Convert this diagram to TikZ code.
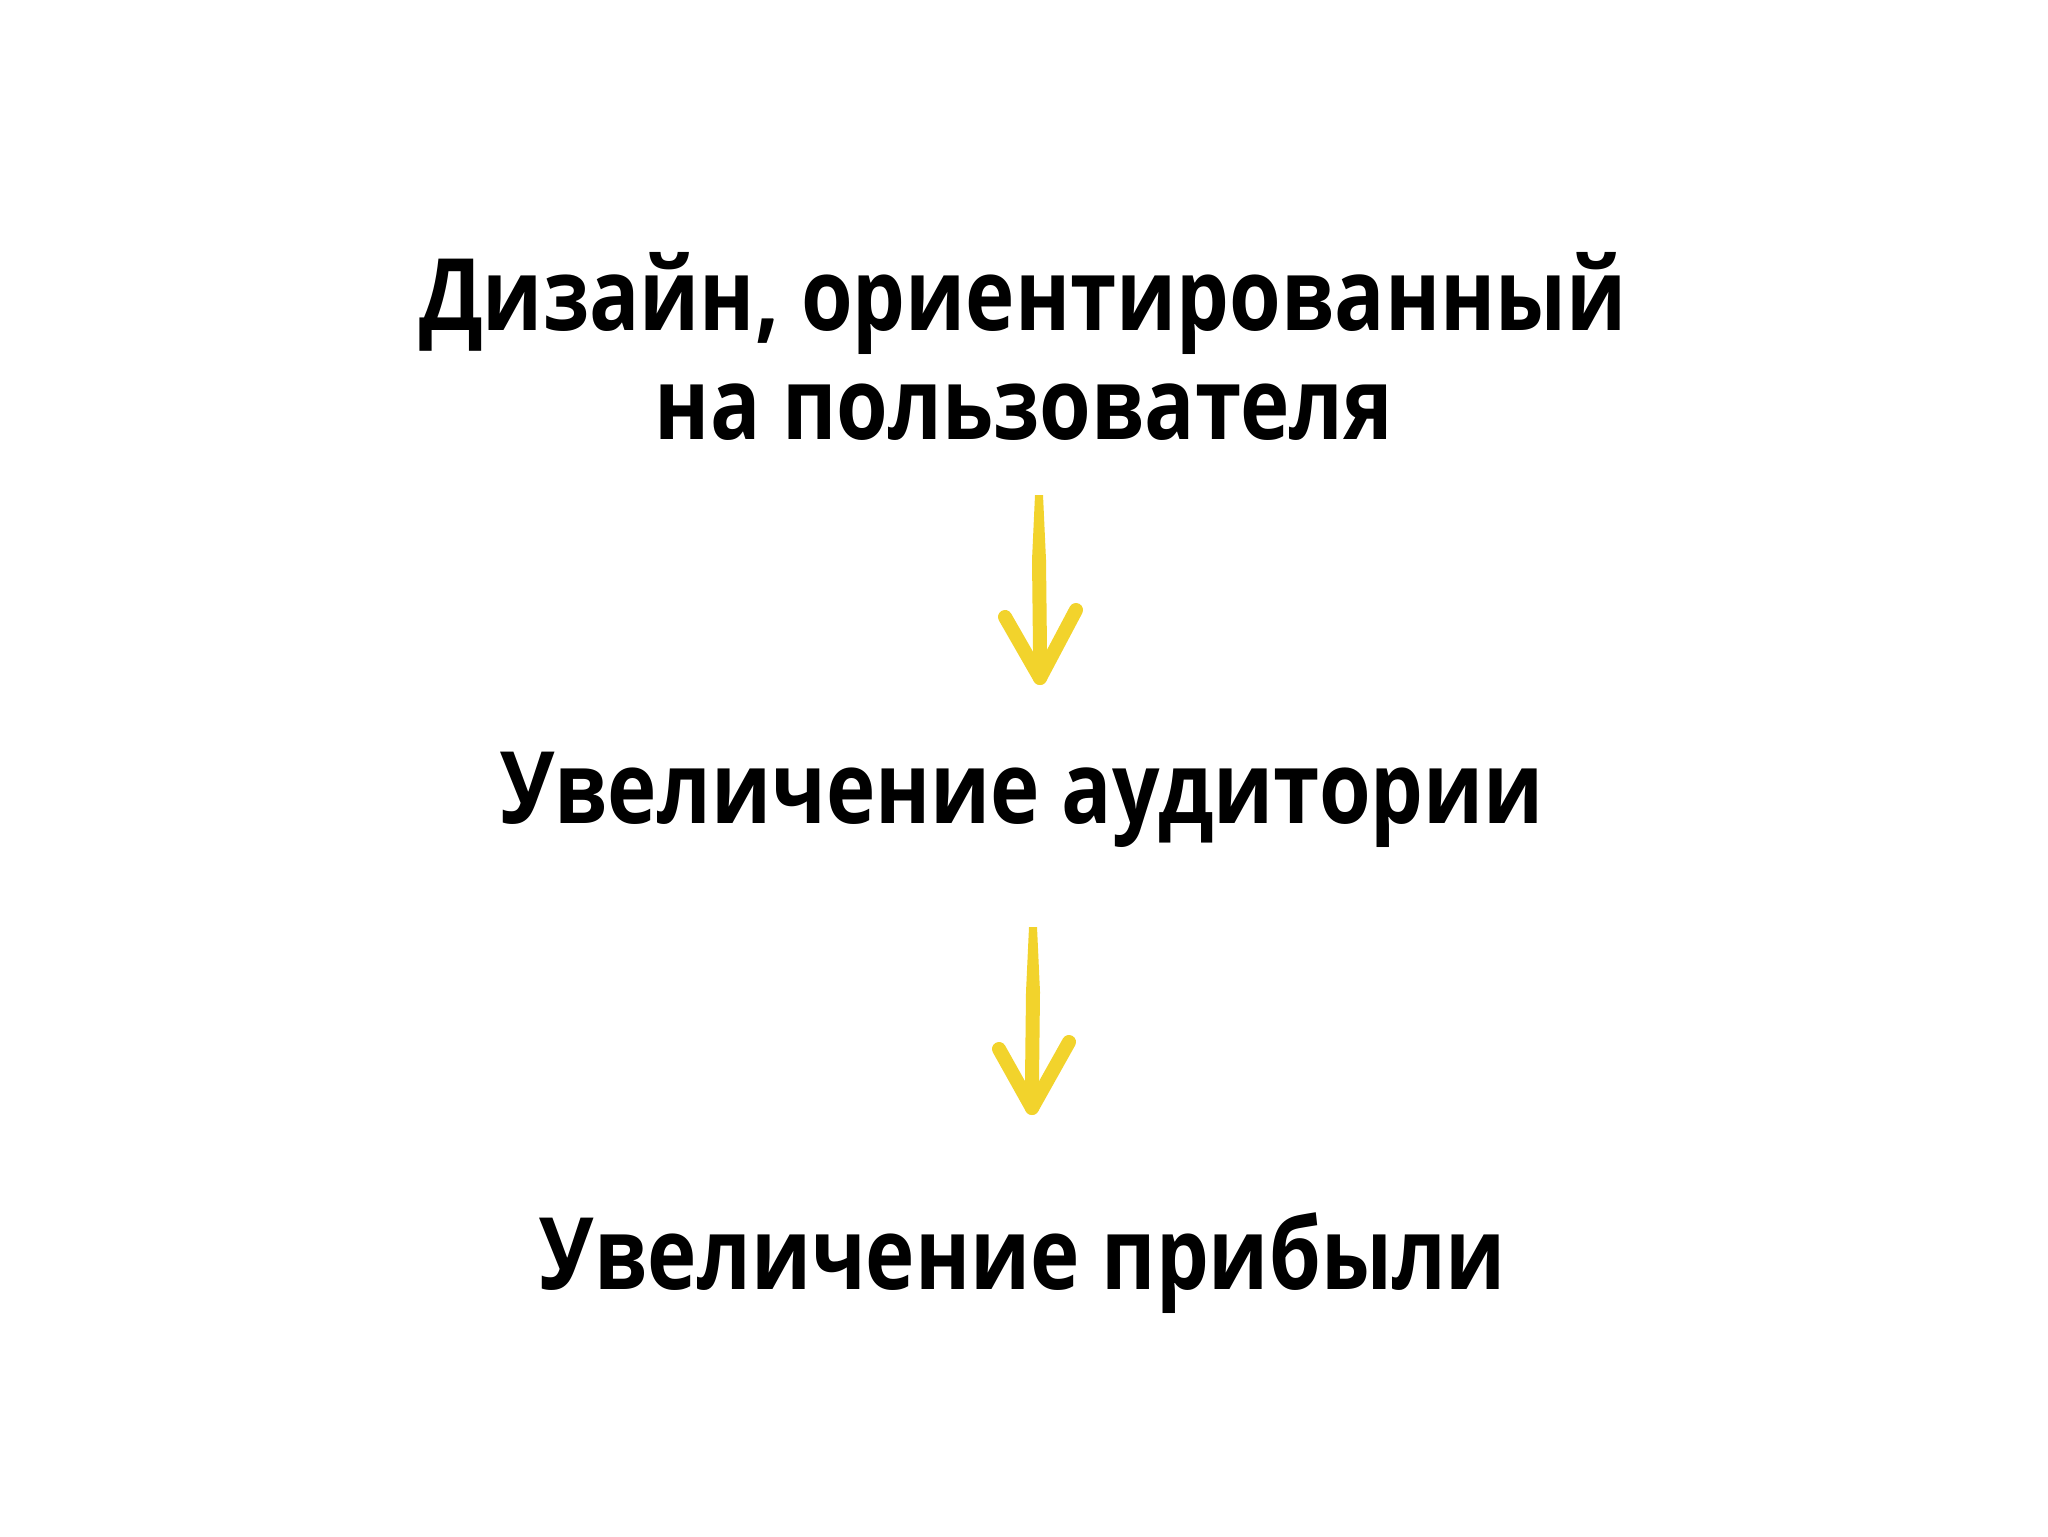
\documentclass[tikz,border=0pt]{standalone}
\usepackage{fontspec}
\setmainfont[FakeStretch=0.835]{Open Sans}
\definecolor{brushyellow}{RGB}{242,211,44}
\tikzset{every picture/.style={line width=0.75pt}}
\tikzset{
  phrase/.style={anchor=base,inner sep=0pt,align=center,font=\fontsize{50}{60}\selectfont\bfseries},
  brush/.style={draw=brushyellow,line width=7pt,line cap=round,line join=round}
}
\begin{document}
\begin{tikzpicture}[x=0.5pt,y=0.5pt,yscale=-1,xscale=1]
\useasboundingbox (0,0) rectangle (2048,1536);

\node [phrase] (design) at (1023,330) {Дизайн, ориентированный};
\node [phrase] (user) at (1024,439) {на пользователя};
\node [phrase] (audience) at (1022,823) {Увеличение аудитории};
\node [phrase] (profit) at (1023,1289) {Увеличение прибыли};

% first arrow
\coordinate (top1) at (1039,495);
\coordinate (tip1) at (1040,678);
\fill [brushyellow] ([xshift=-2pt]top1) -- ([xshift=2pt]top1) -- (1046,560) -- (1047,650) -- (1033,650) -- (1032,560) -- cycle;
\draw [brush] (1040,645) -- (tip1);
\draw [brush] (1005,617) -- (tip1) -- (1076,610);

% second arrow
\coordinate (top2) at (1033,927);
\coordinate (tip2) at (1032,1108);
\fill [brushyellow] ([xshift=-2pt]top2) -- ([xshift=2pt]top2) -- (1040,992) -- (1039,1080) -- (1025,1080) -- (1026,992) -- cycle;
\draw [brush] (1032,1075) -- (tip2);
\draw [brush] (999,1049) -- (tip2) -- (1069,1042);
\end{tikzpicture}
\end{document}
